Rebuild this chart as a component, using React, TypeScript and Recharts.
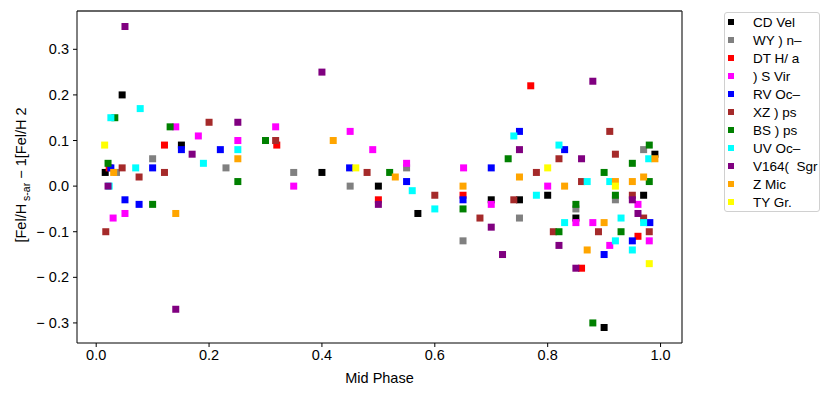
import {
  ScatterChart,
  Scatter,
  XAxis,
  YAxis,
  ReferenceLine,
} from "recharts";

const X_TICKS = [0, 0.2, 0.4, 0.6, 0.8, 1.0];
const Y_TICKS = [-0.3, -0.2, -0.1, 0, 0.1, 0.2, 0.3];
const X_DOMAIN: [number, number] = [-0.034, 1.038];
const Y_DOMAIN: [number, number] = [-0.344, 0.384];

const cdVel = [
  [0.016, 0.03], [0.046, 0.2], [0.151, 0.09], [0.4, 0.03], [0.5, 0.0],
  [0.57, -0.06], [0.7, -0.03], [0.75, -0.03], [0.8, -0.02], [0.85, -0.07],
  [0.9, -0.31], [0.97, -0.02], [0.99, 0.07],
];
const wyPav = [
  [0.036, 0.03], [0.1, 0.06], [0.23, 0.04], [0.35, 0.03], [0.45, 0.0],
  [0.55, 0.04], [0.65, -0.12], [0.75, -0.07], [0.85, -0.05], [0.92, -0.03],
  [0.97, 0.08],
];
const dtHya = [
  [0.023, 0.04], [0.121, 0.09], [0.32, 0.09], [0.5, -0.03], [0.65, -0.02],
  [0.77, 0.22], [0.86, -0.18], [0.96, -0.11],
];
const sVir = [
  [0.03, -0.07], [0.051, -0.06], [0.141, 0.13], [0.181, 0.11], [0.251, 0.1],
  [0.318, 0.13], [0.35, 0.0], [0.45, 0.12], [0.49, 0.08], [0.55, 0.05],
  [0.651, 0.04], [0.7, -0.04], [0.8, 0.0], [0.85, -0.08], [0.88, -0.08],
  [0.91, -0.13], [0.96, -0.04], [0.98, -0.12],
];
const rvOct = [
  [0.026, 0.04], [0.051, -0.03], [0.076, -0.04], [0.1, 0.04], [0.151, 0.08],
  [0.22, 0.08], [0.449, 0.04], [0.55, 0.01], [0.65, -0.03], [0.7, 0.04],
  [0.75, 0.12], [0.83, 0.08], [0.9, -0.15], [0.95, -0.12], [0.981, -0.08],
];
const xzAps = [
  [0.017, -0.1], [0.046, 0.04], [0.076, 0.02], [0.121, 0.03], [0.2, 0.14],
  [0.318, 0.1], [0.48, 0.03], [0.6, -0.02], [0.68, -0.07], [0.74, -0.03],
  [0.78, 0.03], [0.81, -0.1], [0.82, 0.06], [0.86, 0.01], [0.89, -0.1],
  [0.91, 0.12], [0.92, 0.07], [0.95, -0.02], [0.97, -0.07], [0.98, -0.1],
];
const bsAps = [
  [0.021, 0.05], [0.033, 0.15], [0.1, -0.04], [0.131, 0.13], [0.251, 0.01],
  [0.3, 0.1], [0.52, 0.03], [0.65, -0.05], [0.73, 0.06], [0.82, -0.1],
  [0.85, -0.04], [0.88, -0.3], [0.9, 0.03], [0.92, -0.02], [0.93, -0.1],
  [0.95, 0.05], [0.98, 0.09], [0.98, 0.01],
];
const uvOct = [
  [0.023, 0.0], [0.026, 0.15], [0.07, 0.04], [0.078, 0.17], [0.19, 0.05],
  [0.251, 0.08], [0.56, -0.01], [0.6, -0.05], [0.74, 0.11], [0.78, -0.02],
  [0.82, 0.09], [0.83, -0.08], [0.87, 0.01], [0.91, 0.01], [0.92, -0.12],
  [0.93, -0.07], [0.95, -0.14], [0.97, -0.08], [0.979, 0.06],
];
const v164Sgr = [
  [0.021, 0.0], [0.051, 0.35], [0.141, -0.27], [0.17, 0.07], [0.251, 0.14],
  [0.4, 0.25], [0.5, -0.04], [0.7, -0.09], [0.72, -0.15], [0.75, 0.08],
  [0.82, -0.13], [0.85, -0.18], [0.86, 0.06], [0.88, 0.23], [0.95, -0.03],
  [0.96, -0.06],
];
const zMic = [
  [0.031, 0.03], [0.141, -0.06], [0.251, 0.06], [0.42, 0.1], [0.53, 0.02],
  [0.65, 0.0], [0.75, 0.02], [0.83, 0.0], [0.87, -0.14], [0.9, -0.08],
  [0.92, 0.01], [0.95, 0.01], [0.97, 0.02], [0.99, 0.06],
];
const tyGru = [
  [0.015, 0.09], [0.46, 0.04], [0.8, 0.04], [0.92, 0.0], [0.98, -0.17],
];

const SERIES = [
  { name: "CD Vel", color: "#000000", points: cdVel },
  { name: "WY ) n\u2013", color: "#808080", points: wyPav },
  { name: "DT H/ a", color: "#ff0000", points: dtHya },
  { name: ") S Vir", color: "#ff00ff", points: sVir },
  { name: "RV Oc\u2013", color: "#0000ff", points: rvOct },
  { name: "XZ ) ps", color: "#a52a2a", points: xzAps },
  { name: "BS ) ps", color: "#008000", points: bsAps },
  { name: "UV Oc\u2013", color: "#00ffff", points: uvOct },
  { name: "V164(  Sgr", color: "#800080", points: v164Sgr },
  { name: "Z Mic", color: "#ffa500", points: zMic },
  { name: "TY Gr.", color: "#ffff00", points: tyGru },
];

const FONT = "'Liberation Sans', Arial, sans-serif";

const fmt = (v: number) => {
  const s = Math.abs(v).toFixed(1);
  return v < -1e-9 ? `\u2212 ${s}` : s;
};

function Square(props: any) {
  const { cx, cy, fill } = props;
  if (cx == null || cy == null) return null;
  return <rect x={cx - 3.5} y={cy - 3.5} width={7} height={7} fill={fill} />;
}

function LegendBox() {
  return (
    <div
      style={{
        position: "absolute",
        left: 724,
        top: 12,
        border: "1px solid #d0d0d0",
        borderRadius: 3,
        background: "#fff",
        width: 96,
        height: 200,
        boxSizing: "border-box",
        fontFamily: FONT,
        fontSize: 13.5,
      }}
    >
      {SERIES.map((s) => (
        <div key={s.name} style={{ height: 18, display: "flex", alignItems: "center" }}>
          <span
            style={{
              display: "inline-block",
              width: 6,
              height: 6,
              background: s.color,
              marginLeft: 3,
              marginRight: 19,
            }}
          />
          <span style={{ whiteSpace: "pre", color: "#000" }}>{s.name}</span>
        </div>
      ))}
    </div>
  );
}

function YLabel() {
  return (
    <text
      transform="translate(26,175) rotate(-90)"
      textAnchor="middle"
      fontFamily={FONT}
      fontSize={14.5}
      fill="#000"
    >
      [Fel/H
      <tspan fontSize={10.5} dy={4}>{"  s-ar"}</tspan>
      <tspan dy={-4}>{"  \u2212  1[Fel/H  2"}</tspan>
    </text>
  );
}

export default function App() {
  return (
    <div style={{ position: "absolute", left: 0, top: 0, width: 830, height: 395 }}>
      <ScatterChart
        width={830}
        height={395}
        margin={{ top: 11, right: 148, bottom: 22, left: 0 }}
      >
        <XAxis
          type="number"
          dataKey="x"
          domain={X_DOMAIN}
          ticks={X_TICKS}
          interval={0}
          tickFormatter={fmt}
          allowDataOverflow
          height={30}
          tickSize={4}
          tickMargin={3}
          stroke="#000"
          tick={{ fill: "#000", fontSize: 14.5, fontFamily: FONT }}
          label={{
            value: "Mid Phase",
            position: "insideBottom",
            offset: -10,
            fill: "#000",
            fontSize: 14.5,
            fontFamily: FONT,
          }}
        />
        <YAxis
          type="number"
          dataKey="y"
          domain={Y_DOMAIN}
          ticks={Y_TICKS}
          interval={0}
          tickFormatter={fmt}
          allowDataOverflow
          width={77}
          tickSize={4}
          tickMargin={4}
          stroke="#000"
          tick={{ fill: "#000", fontSize: 14.5, fontFamily: FONT }}
          label={{ content: () => <YLabel /> }}
        />
        <ReferenceLine y={Y_DOMAIN[1]} stroke="#333" strokeWidth={1.3} />
        <ReferenceLine x={X_DOMAIN[1]} stroke="#333" strokeWidth={1.3} />
        {SERIES.map((s) => (
          <Scatter
            key={s.name}
            name={s.name}
            data={s.points.map(([x, y]) => ({ x, y }))}
            fill={s.color}
            shape={<Square />}
            isAnimationActive={false}
          />
        ))}
      </ScatterChart>
      <LegendBox />
    </div>
  );
}
